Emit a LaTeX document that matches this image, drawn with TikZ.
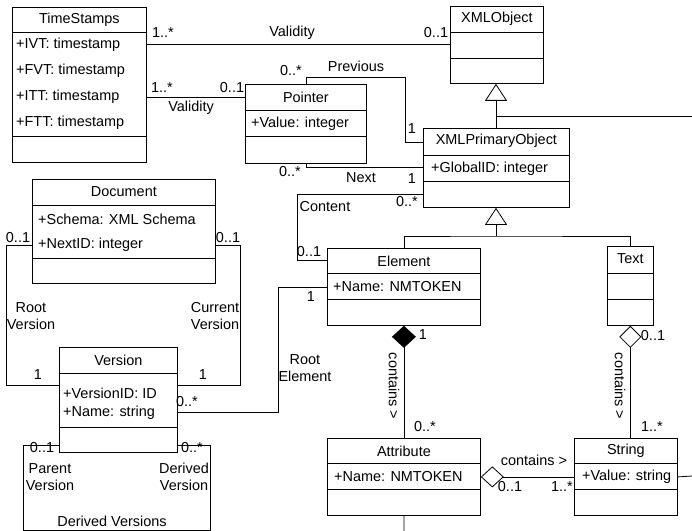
\documentclass[tikz,border=0pt]{standalone}
\usepackage{fontspec}
\setmainfont{Liberation Sans}
\usetikzlibrary{arrows.meta}
\tikzset{
  class/.style={draw, line width=0.8bp, anchor=north west, inner sep=0pt},
  ttl/.style={inner sep=0pt},
  attr/.style={anchor=west, inner sep=0pt},
  lbl/.style={inner sep=0pt, align=center},
  line/.style={draw, line width=0.8bp},
  inherit/.style={line, -{Triangle[open, length=17bp, width=22bp]}},
  compose/.style={line, {Diamond[length=22bp, width=24bp]}-},
  aggregate/.style={line, {Diamond[open, length=22bp, width=22bp]}-}
}
\begin{document}
\begin{tikzpicture}[x=1bp, y=-1bp, font=\fontsize{14.5}{17}\selectfont]
  \useasboundingbox (0,0) rectangle (692,531);
  % classes
  \node[class, minimum width=134bp, minimum height=155bp] (ts) at (12,7) {};
  \node[class, minimum width=121bp, minimum height=79bp] (ptr) at (245,84) {};
  \node[class, minimum width=93bp, minimum height=77bp] (xo) at (450,6) {};
  \node[class, minimum width=146bp, minimum height=79bp] (xpo) at (423,128) {};
  \node[class, minimum width=153bp, minimum height=77bp] (elem) at (327,248) {};
  \node[class, minimum width=46bp, minimum height=79bp] (txt) at (607,246) {};
  \node[class, minimum width=153bp, minimum height=77bp] (attr) at (327,438) {};
  \node[class, minimum width=103bp, minimum height=77bp] (str) at (574,438) {};
  \node[class, minimum width=183bp, minimum height=104bp] (doc) at (32,179) {};
  \node[class, minimum width=118bp, minimum height=105bp] (ver) at (59,347) {};
  \foreach \n/\a/\b in {ts/25/129, ptr/26/52, xo/26/52, xpo/27/53, elem/25/51,
      txt/27/53, attr/25/51, str/25/51, doc/26/79, ver/26/80}{
    \draw[line] ([yshift=-\a bp]\n.north west) -- ([yshift=-\a bp]\n.north east);
    \draw[line] ([yshift=-\b bp]\n.north west) -- ([yshift=-\b bp]\n.north east);
  }
  \foreach \n/\t in {ts/TimeStamps, ptr/Pointer, xo/XMLObject, xpo/XMLPrimaryObject,
      elem/Element, txt/Text, attr/Attribute, str/String, doc/Document, ver/Version}
    \node[ttl] (\n-t) at ([yshift=-13bp]\n.north) {\t};
  % attributes
  \node[attr] (ts-a1) at ([xshift=4bp, yshift=-38bp]ts.north west) {+IVT: timestamp};
  \node[attr] (ts-a2) at ([xshift=4bp, yshift=-64bp]ts.north west) {+FVT: timestamp};
  \node[attr] (ts-a3) at ([xshift=4bp, yshift=-90bp]ts.north west) {+ITT: timestamp};
  \node[attr] (ts-a4) at ([xshift=4bp, yshift=-116bp]ts.north west) {+FTT: timestamp};
  \node[attr] (ptr-a1) at ([xshift=6bp, yshift=-40bp]ptr.north west) {+Value: integer};
  \node[attr] (xpo-a1) at ([xshift=8bp, yshift=-41bp]xpo.north west) {+GlobalID: integer};
  \node[attr] (elem-a1) at ([xshift=6bp, yshift=-39bp]elem.north west) {+Name: NMTOKEN};
  \node[attr] (attr-a1) at ([xshift=7bp, yshift=-39bp]attr.north west) {+Name: NMTOKEN};
  \node[attr] (str-a1) at ([xshift=8bp, yshift=-39bp]str.north west) {+Value: string};
  \node[attr] (doc-a1) at ([xshift=6bp, yshift=-40bp]doc.north west) {+Schema: XML Schema};
  \node[attr] (doc-a2) at ([xshift=6bp, yshift=-66bp]doc.north west) {+NextID: integer};
  \node[attr] (ver-a1) at ([xshift=4bp, yshift=-46bp]ver.north west) {+VersionID: ID};
  \node[attr] (ver-a2) at ([xshift=4bp, yshift=-66bp]ver.north west) {+Name: string};
  % connection points
  \coordinate (tsv) at ([yshift=-90bp]ts.north east);
  \coordinate (prevA) at (405,77);
  \coordinate (prevB) at ([yshift=-14bp]xpo.north west);
  \coordinate (contA) at ([yshift=-66bp]xpo.north west);
  \coordinate (contB) at ([yshift=-12bp]elem.north west);
  \coordinate (verRE) at ([yshift=-65bp]ver.north east);
  \coordinate (docL) at ([yshift=-66bp]doc.north west);
  \coordinate (docR) at ([yshift=-66bp]doc.north east);
  \coordinate (verL) at ([yshift=-38bp]ver.north west);
  \coordinate (verR) at ([yshift=-38bp]ver.north east);
  \coordinate (dvL) at ([yshift=-98bp]ver.north west);
  \coordinate (dvR) at ([yshift=-98bp]ver.north east);
  \coordinate (gtop) at (496,116);
  \coordinate (gtopout) at (692,116);
  \coordinate (gjoin) at (496,236);
  \coordinate (attrout) at (404,531);
  \coordinate (strout) at (692,476);
  % associations
  \draw[line] (ts.east |- xo.west) -- (xo.west);
  \draw[line] (tsv) -- (tsv -| ptr.west);
  \draw[line] (ptr.north) |- (prevA) |- (prevB);
  \draw[line] (ptr.south) |- (xpo.west);
  \draw[line] (contA) -| ([xshift=-30bp]contB) -- (contB);
  \draw[line] (elem.west) -| ([xshift=101bp]verRE) -- (verRE);
  \draw[line] (docL) -| ([xshift=-53bp]verL) -- (verL);
  \draw[line] (docR) -| ([xshift=63bp]verR) -- (verR);
  \draw[line] (dvL) -- ++(-36,0) -- ++(0,85) -| ([xshift=33bp]dvR) -- (dvR);
  % generalisations
  \draw[inherit] (xpo.north -| gtop) -- (xo.south -| gtop);
  \draw[line] (gtop) -- (gtopout);
  \draw[line] (elem.north) |- (gjoin) -| (txt.north);
  \draw[inherit] (gjoin) -- (xpo.south -| gjoin);
  % aggregations
  \draw[compose] (elem.south) -- (attr.north -| elem.south);
  \draw[aggregate] (txt.south) -- (txt.south |- str.north);
  \draw[line, {Diamond[open, length=23bp, width=21bp]}-] (attr.east) -- (str.west);
  \draw[line] (attr.south) -- (attrout);
  \draw[line] (str.east) -- (strout);
  % labels
  \node[lbl] (m1) at (163,33) {1..*};
  \node[lbl] (v1) at (292,33) {Validity};
  \node[lbl] (m2) at (436,33) {0..1};
  \node[lbl] (m3) at (162,88) {1..*};
  \node[lbl] (m4) at (232,88) {0..1};
  \node[lbl] (v2) at (191,108) {Validity};
  \node[lbl] (m5) at (291,71) {0..*};
  \node[lbl] (pv) at (356,66) {Previous};
  \node[lbl] (m6) at (412,129) {1};
  \node[lbl] (m7) at (290,172) {0..*};
  \node[lbl] (nx) at (361,178) {Next};
  \node[lbl] (m8) at (412,179) {1};
  \node[lbl] (m9) at (407,202) {0..*};
  \node[lbl] (ct) at (325,207) {Content};
  \node[lbl] (m10) at (309,252) {0..1};
  \node[lbl] (m11) at (311,297) {1};
  \node[lbl] (re) at (305,368) {Root\\Element};
  \node[lbl] (m12) at (187,402) {0..*};
  \node[lbl] (m13) at (423,335) {1};
  \node[lbl, rotate=-90] (c1) at (394,386) {contains >};
  \node[lbl] (m14) at (425,427) {0..*};
  \node[lbl] (m15) at (653,336) {0..1};
  \node[lbl, rotate=-90] (c2) at (620,386) {contains >};
  \node[lbl] (m16) at (652,427) {1..*};
  \node[lbl] (c3) at (534,460) {contains >};
  \node[lbl] (m17) at (510,487) {0..1};
  \node[lbl] (m18) at (562,487) {1..*};
  \node[lbl] (m19) at (18,238) {0..1};
  \node[lbl] (m20) at (228,238) {0..1};
  \node[lbl] (rv) at (31,316) {Root\\Version};
  \node[lbl] (cv) at (215,316) {Current\\Version};
  \node[lbl] (m21) at (38,375) {1};
  \node[lbl] (m22) at (203,375) {1};
  \node[lbl] (m23) at (42,448) {0..1};
  \node[lbl] (m24) at (192,448) {0..*};
  \node[lbl] (pa) at (50,477) {Parent\\Version};
  \node[lbl] (dv) at (184,477) {Derived\\Version};
  \node[lbl] (dvs) at (112,521) {Derived Versions};
\end{tikzpicture}
\end{document}
